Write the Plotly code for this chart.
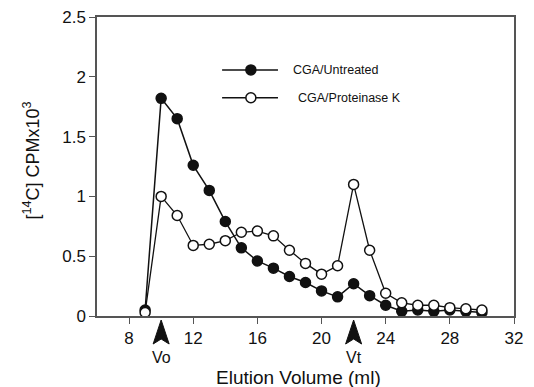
import plotly.graph_objects as go

# Data
elution_ml = [9, 10, 11, 12, 13, 14, 15, 16, 17, 18, 19, 20, 21, 22, 23, 24, 25, 26, 27, 28, 29, 30]
untreated = [0.05, 1.82, 1.65, 1.26, 1.05, 0.79, 0.57, 0.46, 0.40, 0.33, 0.28, 0.21, 0.16, 0.27, 0.17,
             0.09, 0.04, 0.05, 0.04, 0.05, 0.04, 0.03]
proteinase_k = [0.03, 1.00, 0.84, 0.59, 0.60, 0.63, 0.70, 0.71, 0.67, 0.55, 0.44, 0.35, 0.42, 1.10, 0.55,
                0.19, 0.11, 0.09, 0.09, 0.07, 0.06, 0.05]
series_names = ["CGA/Untreated", "CGA/Proteinase K"]
x_ticks = [8, 12, 16, 20, 24, 28, 32]
y_ticks = [0, 0.5, 1, 1.5, 2, 2.5]
y_tick_labels = ["0", "0.5", "1", "1.5", "2", "2.5"]
volume_markers = [10, 22]
volume_labels = ["Vo", "Vt"]

FONT = "Liberation Sans, Arial, Helvetica, sans-serif"
INK = "#111111"
FRAME = "#555555"

styles = [
    dict(fill=INK, lw=1.5),
    dict(fill="white", lw=1.3),
]

fig = go.Figure()
for name, vals, st in zip(series_names, [untreated, proteinase_k], styles):
    fig.add_trace(go.Scatter(
        x=elution_ml, y=vals, name=name, mode="lines+markers",
        line=dict(color=INK, width=st["lw"]),
        marker=dict(symbol="circle", size=10, color=st["fill"], line=dict(color=INK, width=1.5)),
        showlegend=False,
    ))

# Hand-drawn legend (long line sample, as in the reference)
legend_rows_y = [0.823, 0.730]
legend_text_x = [0.466, 0.478]
for name, st, ly, tx in zip(series_names, styles, legend_rows_y, legend_text_x):
    fig.add_shape(type="line", xref="paper", yref="paper", x0=0.300, x1=0.434, y0=ly, y1=ly,
                  line=dict(color=INK, width=1.5))
    fig.add_shape(type="circle", xref="paper", yref="paper", xsizemode="pixel", ysizemode="pixel",
                  xanchor=0.369, yanchor=ly, x0=-5, x1=5, y0=-5, y1=5,
                  fillcolor=st["fill"], line=dict(color=INK, width=1.5))
    fig.add_annotation(x=tx, y=ly, xref="paper", yref="paper", text=name, showarrow=False,
                       xanchor="left", yanchor="middle", font=dict(family=FONT, size=12.5, color=INK))

# Vo / Vt arrowheads below the axis and their labels
for xv, lab in zip(volume_markers, volume_labels):
    fig.add_shape(
        type="path", xref="x", yref="paper", xsizemode="pixel", ysizemode="pixel",
        xanchor=xv, yanchor=0,
        path="M0,-4 L8,-28 L0,-23 L-8,-28 Z",
        fillcolor=INK, line=dict(color=INK, width=1), layer="above",
    )
    fig.add_annotation(
        x=xv, y=0, xref="x", yref="paper", text=lab, showarrow=False,
        xanchor="center", yanchor="middle",
        yshift=-41, font=dict(family=FONT, size=16, color=INK),
    )

# Axis titles
fig.add_annotation(
    x=0.484, y=-0.207, xref="paper", yref="paper", text="Elution Volume (ml)",
    showarrow=False, xanchor="center", yanchor="middle", font=dict(family=FONT, size=19, color=INK),
)
fig.add_annotation(
    x=-0.156, y=0.52, xref="paper", yref="paper", text="[<sup>14</sup>C] CPMx10<sup>3</sup>",
    showarrow=False, xanchor="center", yanchor="middle", textangle=-90,
    font=dict(family=FONT, size=18, color=INK),
)

fig.update_layout(
    width=526, height=379,
    margin=dict(l=89, r=20, t=9, b=71, autoexpand=False),
    paper_bgcolor="white", plot_bgcolor="white",
    font=dict(family=FONT, color=INK),
    showlegend=False,
    xaxis=dict(
        range=[6, 32], tickvals=x_ticks, ticks="outside", ticklen=6, tickwidth=1.2,
        tickcolor=FRAME, showline=True, linecolor=FRAME, linewidth=1.5, mirror=True,
        showgrid=False, zeroline=False, ticklabeloverflow="allow",
        tickfont=dict(family=FONT, size=17, color=INK),
    ),
    yaxis=dict(
        range=[0, 2.5], tickvals=y_ticks, ticktext=y_tick_labels, ticks="outside", ticklen=6,
        tickwidth=1.2, tickcolor=FRAME, showline=True, linecolor=FRAME, linewidth=1.5,
        mirror=True, showgrid=False, zeroline=False, ticklabeloverflow="allow",
        tickfont=dict(family=FONT, size=17, color=INK),
    ),
)

fig.write_html("out.html")
